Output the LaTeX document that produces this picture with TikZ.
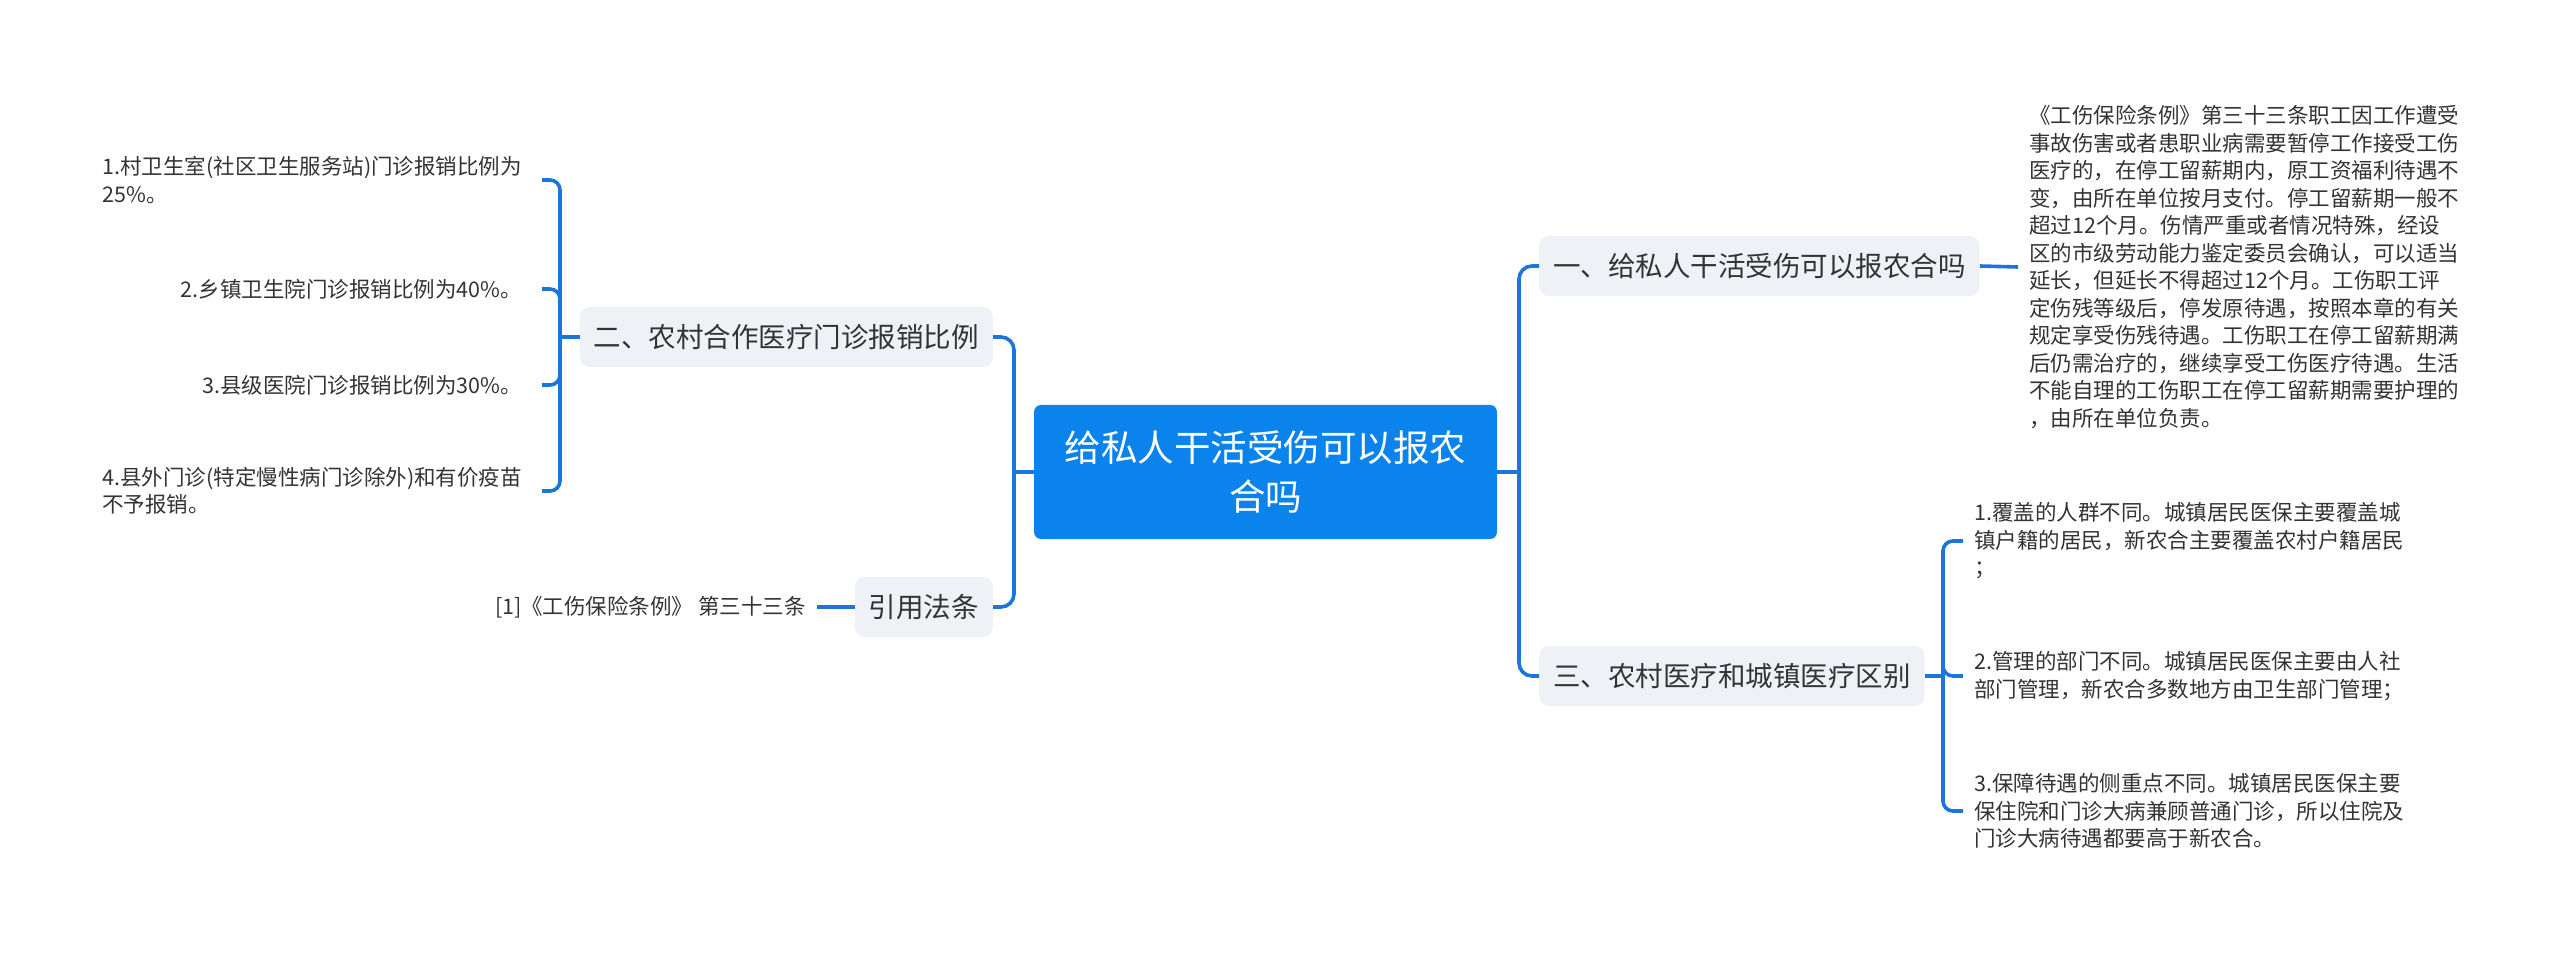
\documentclass[tikz,border=0pt]{standalone}
\usepackage{fontspec}
\setmainfont{Noto Sans CJK SC}
\usepackage{xcolor}
\definecolor{lnk}{HTML}{1B75DA}
\definecolor{rootc}{HTML}{0A83EC}
\definecolor{soft}{HTML}{EEF1F5}
\definecolor{ink}{HTML}{333333}
\usetikzlibrary{positioning}
\tikzset{
  rootbox/.style={fill=rootc,rounded corners=7pt,text=white,minimum width=463pt,minimum height=134pt,align=center,inner sep=0pt,font=\fontsize{36.5}{49}\selectfont},
  topic/.style={fill=soft,rounded corners=10pt,text=ink,minimum height=60pt,inner xsep=14pt,inner ysep=0pt,font=\fontsize{27.5}{33}\selectfont},
  leaf/.style={text=ink,align=left,inner xsep=11pt,inner ysep=0pt,font=\fontsize{21.5}{27.5}\selectfont},
  lleaf/.style={leaf,inner xsep=20pt},
  link/.style={draw=lnk,line width=3.6pt},
  trunk/.style={link,rounded corners=13pt},
  brace/.style={link,rounded corners=10pt},
}

\begin{document}
\begin{tikzpicture}[x=1pt,y=-1pt]
\useasboundingbox (0,0) rectangle (2560,957);
% centre topic
\node[rootbox] (root) at (1265.5,472) {给私人干活受伤可以报农\\合吗};
\coordinate (lj) at (1014,472);
\coordinate (rj) at (1519,472);
\draw[link] (root.west) -- (lj);
\draw[link] (root.east) -- (rj);

% right side
\node[topic,anchor=west] (b1) at (1539,266) {一、给私人干活受伤可以报农合吗};
\node[topic,anchor=west] (b3) at (1539,676) {三、农村医疗和城镇医疗区别};
\draw[trunk] (rj) |- (b1.west);
\draw[trunk] (rj) |- (b3.west);

\node[leaf,anchor=west] (l1) at (2018,267) {《工伤保险条例》第三十三条职工因工作遭受\\事故伤害或者患职业病需要暂停工作接受工伤\\医疗的，在停工留薪期内，原工资福利待遇不\\变，由所在单位按月支付。停工留薪期一般不\\超过12个月。伤情严重或者情况特殊，经设\\区的市级劳动能力鉴定委员会确认，可以适当\\延长，但延长不得超过12个月。工伤职工评\\定伤残等级后，停发原待遇，按照本章的有关\\规定享受伤残待遇。工伤职工在停工留薪期满\\后仍需治疗的，继续享受工伤医疗待遇。生活\\不能自理的工伤职工在停工留薪期需要护理的\\，由所在单位负责。};
\draw[link] (b1.east) -- (l1.west);

\coordinate (j3) at (1943,676);
\draw[link] (b3.east) -- (j3);
\foreach \k/\yy/\txt in {1/541/{1.覆盖的人群不同。城镇居民医保主要覆盖城\\镇户籍的居民，新农合主要覆盖农村户籍居民\\；},
  2/676/{2.管理的部门不同。城镇居民医保主要由人社\\部门管理，新农合多数地方由卫生部门管理；},
  3/811/{3.保障待遇的侧重点不同。城镇居民医保主要\\保住院和门诊大病兼顾普通门诊，所以住院及\\门诊大病待遇都要高于新农合。}}{
 \node[leaf,anchor=west] (l3\k) at (1963,\yy) {\txt};
 \draw[brace] (j3) |- (l3\k.west);
}

% left side
\node[topic,anchor=east] (b2) at (993,337) {二、农村合作医疗门诊报销比例};
\node[topic,anchor=east] (bref) at (993,607) {引用法条};
\draw[trunk] (lj) |- (b2.east);
\draw[trunk] (lj) |- (bref.east);

\node[leaf,anchor=east] (lref) at (817,607) {[1]《工伤保险条例》 第三十三条};
\draw[link] (bref.west) -- (lref.east);

\coordinate (j2) at (560,337);
\draw[link] (b2.west) -- (j2);
\foreach \k/\yy/\txt in {1/180/{1.村卫生室(社区卫生服务站)门诊报销比例为\\25\%。},
  2/289/{2.乡镇卫生院门诊报销比例为40\%。},
  3/385/{3.县级医院门诊报销比例为30\%。},
  4/491/{4.县外门诊(特定慢性病门诊除外)和有价疫苗\\不予报销。}}{
 \node[lleaf,anchor=east] (l2\k) at (542,\yy) {\txt};
 \draw[brace] (j2) |- (l2\k.east);
}
\end{tikzpicture}
\end{document}
